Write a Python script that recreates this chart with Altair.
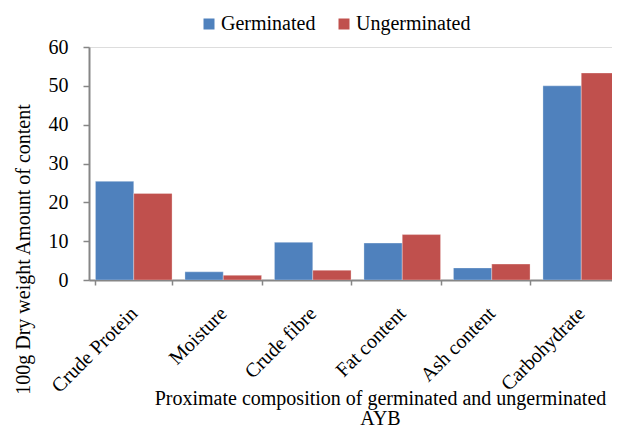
import altair as alt
import pandas as pd

categories = ["Crude Protein", "Moisture", "Crude fibre", "Fat content", "Ash content", "Carbohydrate"]
germinated = [25.4, 2.1, 9.7, 9.5, 3.1, 50.0]
ungerminated = [22.3, 1.2, 2.5, 11.7, 4.1, 53.3]
series = ["Germinated", "Ungerminated"]
colors = ["#4F81BD", "#C0504D"]

rows = []
for c, g, u in zip(categories, germinated, ungerminated):
    rows.append({"cat": c, "series": "Germinated", "value": g})
    rows.append({"cat": c, "series": "Ungerminated", "value": u})
df = pd.DataFrame(rows)

FONT = "Liberation Serif"
FS = 20

chart = alt.Chart(df).mark_bar(clip=True, stroke="white", strokeWidth=0.5, strokeOpacity=0.6).encode(
    x=alt.X("cat:N", sort=categories,
            scale=alt.Scale(range=[0, 537], paddingInner=0.144, paddingOuter=0.072),
            axis=alt.Axis(title=["Proximate composition of germinated and ungerminated", "AYB"],
                          labelAngle=-45, labelAlign="right", labelBaseline="middle",
                          labelFont=FONT, labelFontSize=FS, labelColor="black", labelPadding=25,
                          tickBand="extent", tickSize=5, tickColor="#868686", tickWidth=1.5,
                          domainColor="#868686", domainWidth=2,
                          titleFont=FONT, titleFontSize=FS, titleFontWeight="normal", titleColor="black",
                          titleX=291, titleY=124, titleAlign="center", titleBaseline="alphabetic",
                          titleLineHeight=20.5)),
    xOffset=alt.XOffset("series:N", sort=series),
    y=alt.Y("value:Q", scale=alt.Scale(domain=[0, 60]),
            axis=alt.Axis(title="100g Dry weight Amount of content", values=[0, 10, 20, 30, 40, 50, 60],
                          grid=False, labelFont=FONT, labelFontSize=FS, labelColor="black", labelPadding=15,
                          tickSize=6, tickColor="#868686", tickWidth=1.5, domainColor="#868686", domainWidth=2,
                          titleFont=FONT, titleFontSize=FS, titleFontWeight="normal", titleColor="black",
                          titleX=-66, titleY=202, titleAngle=-90, titleAlign="center", titleBaseline="middle")),
    color=alt.Color("series:N", sort=series, scale=alt.Scale(domain=series, range=colors),
                    legend=alt.Legend(title=None, orient="none", legendX=110, legendY=-33,
                                      direction="horizontal", symbolType="square", symbolSize=121,
                                      symbolStrokeWidth=0, labelFont=FONT, labelFontSize=FS,
                                      labelColor="black", columnPadding=18, labelOffset=2)),
).properties(
    width=523, height=233,
    autosize=alt.AutoSizeParams(type="none"),
    padding={"left": 81, "top": 39, "right": 0, "bottom": 149},
).configure_view(stroke=None).configure(background="white")

chart.save("out.html", embed_options={"renderer": "svg", "actions": False})
